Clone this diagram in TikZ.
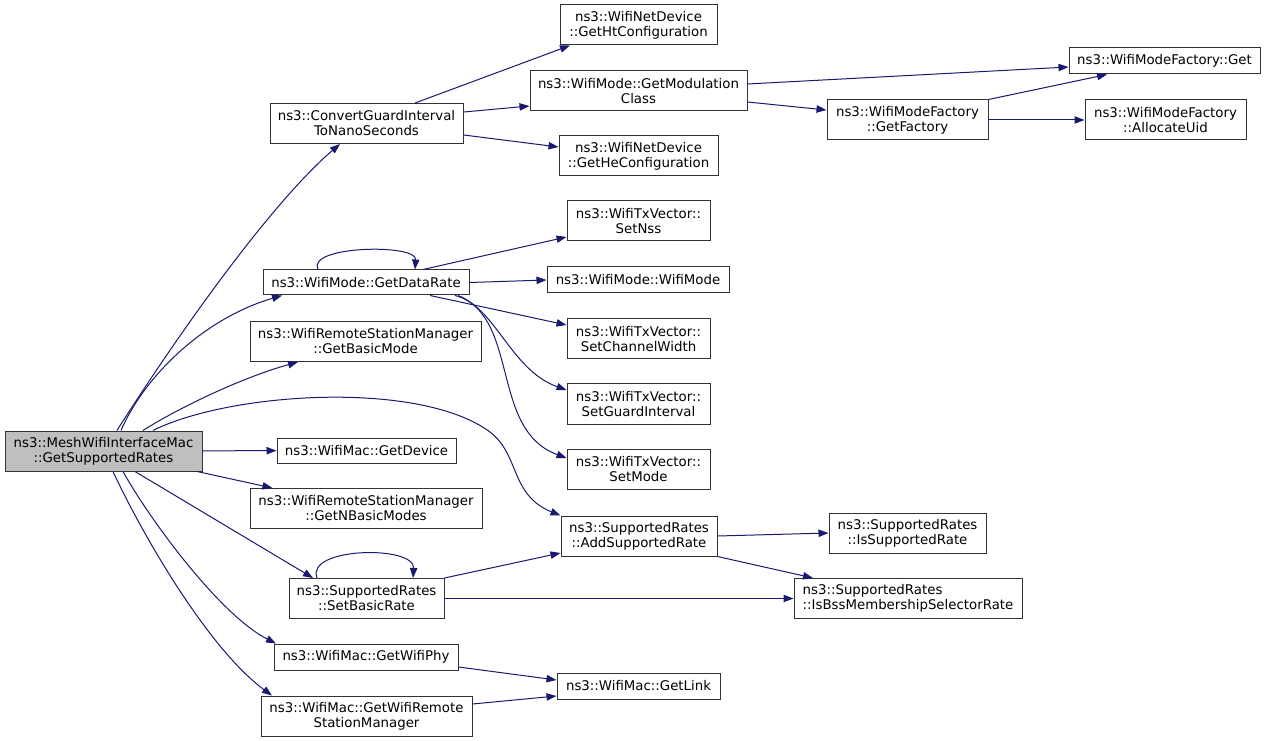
\documentclass[tikz,border=0pt]{standalone}
\usepackage{fontspec}
\setmainfont{DejaVu Sans}
\usetikzlibrary{arrows.meta}
\definecolor{edgeblue}{HTML}{191970}
\definecolor{rootgray}{HTML}{BFBFBF}
\definecolor{boxline}{HTML}{333333}
\newcommand{\dxfont}{\fontsize{10pt}{11.25pt}\selectfont}
\begin{document}
\begin{tikzpicture}[x=0.75pt,y=-0.75pt,
  box/.style={draw=boxline, line width=0.75pt, fill=white, inner sep=0pt, align=center, font=\dxfont},
  rootbox/.style={box, fill=rootgray},
  sz/.style 2 args={minimum width=#1*0.75pt, minimum height=#2*0.75pt},
  call/.style={draw=edgeblue, line width=0.75pt, -{Triangle[length=7.5pt,width=5.5pt]}}]
\useasboundingbox (0,0) rectangle (1267,741);
\fill[white] (0,0) rectangle (1267,741);
% nodes
\node[rootbox,sz={197}{40}] (main) at (103.5,451) {ns3::MeshWifiInterfaceMac\\::GetSupportedRates};
\node[box,sz={193}{40}] (conv) at (366.5,123.5) {ns3::ConvertGuardInterval\\ToNanoSeconds};
\node[box,sz={157}{40}] (ht) at (638.5,25) {ns3::WifiNetDevice\\::GetHtConfiguration};
\node[box,sz={217}{40}] (mod) at (638.5,91) {ns3::WifiMode::GetModulation\\Class};
\node[box,sz={159}{40}] (he) at (638.5,156) {ns3::WifiNetDevice\\::GetHeConfiguration};
\node[box,sz={191}{26}] (get) at (1164.5,61) {ns3::WifiModeFactory::Get};
\node[box,sz={161}{40}] (fac) at (907.5,120) {ns3::WifiModeFactory\\::GetFactory};
\node[box,sz={161}{40}] (alloc) at (1165.5,120) {ns3::WifiModeFactory\\::AllocateUid};
\node[box,sz={206}{25}] (dr) at (366,282.5) {ns3::WifiMode::GetDataRate};
\node[box,sz={143}{40}] (nss) at (638.5,221) {ns3::WifiTxVector::\\SetNss};
\node[box,sz={182}{26}] (wm) at (638,280) {ns3::WifiMode::WifiMode};
\node[box,sz={143}{40}] (cw) at (638.5,339) {ns3::WifiTxVector::\\SetChannelWidth};
\node[box,sz={143}{40}] (gi) at (638.5,404) {ns3::WifiTxVector::\\SetGuardInterval};
\node[box,sz={143}{40}] (sm) at (638.5,469) {ns3::WifiTxVector::\\SetMode};
\node[box,sz={231}{40}] (bm) at (365.5,341.5) {ns3::WifiRemoteStationManager\\::GetBasicMode};
\node[box,sz={179}{25}] (dev) at (366.5,450.5) {ns3::WifiMac::GetDevice};
\node[box,sz={232}{40}] (nbm) at (366,508.5) {ns3::WifiRemoteStationManager\\::GetNBasicModes};
\node[box,sz={155}{40}] (sbr) at (366.5,598.5) {ns3::SupportedRates\\::SetBasicRate};
\node[box,sz={184}{26}] (phy) at (366,657) {ns3::WifiMac::GetWifiPhy};
\node[box,sz={211}{40}] (rsm) at (366.5,716) {ns3::WifiMac::GetWifiRemote\\StationManager};
\node[box,sz={156}{40}] (add) at (639,536) {ns3::SupportedRates\\::AddSupportedRate};
\node[box,sz={157}{40}] (isr) at (907.5,533) {ns3::SupportedRates\\::IsSupportedRate};
\node[box,sz={228}{40},align=left] (bss) at (908,598.5) {ns3::SupportedRates\\::IsBssMembershipSelectorRate};
\node[box,sz={163}{26}] (link) at (638.5,686) {ns3::WifiMac::GetLink};
% edges from root
\draw[call] ([xshift=10.1pt]main.north) .. controls (177,336) and (270,204) .. ([xshift=-19.9pt]conv.south);
\draw[call] ([xshift=13.1pt]main.north) .. controls (145,375) and (205,318) .. ([xshift=-63pt]dr.south);
\draw[call] ([xshift=29.6pt]main.north) .. controls (175,410) and (240,378) .. ([xshift=-50.6pt]bm.south);
\draw[call] ([xshift=37.1pt]main.north) .. controls (230,392) and (420,380) .. (490,432) .. controls (520,455) and (510,495) .. (add.north west);
\draw[call] (main) -- (dev);
\draw[call] (main) -- (nbm);
\draw[call] ([xshift=23.6pt]main.south) -- ([xshift=-40.1pt]sbr.north);
\draw[call] ([xshift=14.6pt]main.south) .. controls (150,520) and (220,615) .. ([xshift=-67.5pt]phy.north);
\draw[call] ([xshift=7.1pt]main.south) .. controls (145,540) and (210,650) .. ([xshift=-70.9pt]rsm.north);
% conv
\draw[call] ([xshift=36.4pt]conv.north) -- ([xshift=-51.4pt]ht.south);
\draw[call] ([yshift=8.6pt]conv.east) -- ([yshift=-11.25pt]mod.west);
\draw[call] ([yshift=-8.6pt]conv.east) -- ([yshift=6.75pt]he.west);
% mod / factory
\draw[call] ([yshift=5.25pt]mod.east) -- ([yshift=-4.5pt]get.west);
\draw[call] ([yshift=-8.25pt]mod.east) -- ([yshift=7.5pt]fac.west);
\draw[call] (fac.north east) -- ([xshift=-43.1pt]get.south);
\draw[call] (fac) -- (alloc);
% data rate
\draw[call] ([xshift=-36pt]dr.north) .. controls +(-12,-24) and +(2,-26) .. ([xshift=36.75pt]dr.north);
\draw[call] ([xshift=42.75pt]dr.north) -- ([yshift=-12pt]nss.west);
\draw[call] (dr.east) -- (wm.west);
\draw[call] ([xshift=48pt]dr.south) -- ([yshift=10.5pt]cw.west);
\draw[call] ([xshift=66.75pt]dr.south) .. controls (495,305) and (510,370) .. ([yshift=10.5pt]gi.west);
\draw[call] ([xshift=69pt]dr.south) .. controls (520,320) and (490,430) .. ([yshift=8.25pt]sm.west);
% supported rates
\draw[call] ([xshift=-37.1pt]sbr.north) .. controls +(-12,-31) and +(2,-33) .. ([xshift=34.9pt]sbr.north);
\draw[call] (sbr.north east) -- ([yshift=-12.75pt]add.west);
\draw[call] (sbr) -- (bss);
\draw[call] (add.east) -- (isr.west);
\draw[call] (add.south east) -- ([xshift=-71.25pt]bss.north);
% link
\draw[call] ([yshift=-7.5pt]phy.east) -- ([yshift=4.5pt]link.west);
\draw[call] ([yshift=9pt]rsm.east) -- ([yshift=-7.5pt]link.west);
\end{tikzpicture}
\end{document}
